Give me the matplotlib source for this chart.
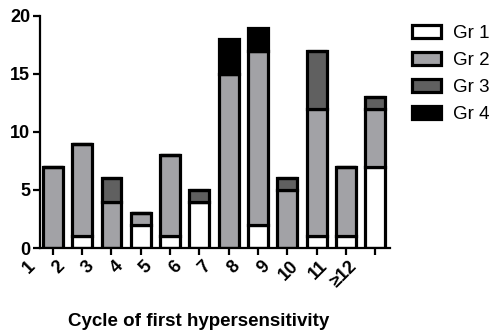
import matplotlib
matplotlib.use("Agg")
import matplotlib.pyplot as plt
import numpy as np

plt.rcParams['font.family'] = ['Liberation Sans', 'DejaVu Sans']

labels = ['1', '2', '3', '4', '5', '6', '7', '8', '9', '10', '11', '\u226512']
gr1 = [0, 1, 0, 2, 1, 4, 0, 2, 0, 1, 1, 7]
gr2 = [7, 8, 4, 1, 7, 0, 15, 15, 5, 11, 6, 5]
gr3 = [0, 0, 2, 0, 0, 1, 0, 0, 1, 5, 0, 1]
gr4 = [0, 0, 0, 0, 0, 0, 3, 2, 0, 0, 0, 0]
groups = ['Gr 1', 'Gr 2', 'Gr 3', 'Gr 4']
colors = ['white', '#a2a2a6', '#606060', 'black']

fig = plt.figure(figsize=(4.91, 3.32), dpi=100)
ax = fig.add_axes([0.0815, 0.253, 0.713, 0.699])

x = np.arange(len(gr1))
bottom = np.zeros(len(x))
for vals, name, c in zip([gr1, gr2, gr3, gr4], groups, colors):
    ax.bar(x, vals, 0.68, bottom=bottom, color=c, edgecolor='black',
           linewidth=2.3, label=name)
    bottom = bottom + np.array(vals)

ax.set_xlim(-0.44, 11.51)
ax.set_ylim(0, 20)
ax.set_yticks([0, 5, 10, 15, 20])
ax.set_xticks(x)
ax.set_xticklabels([])
for s in ['top', 'right']:
    ax.spines[s].set_visible(False)
for s in ['left', 'bottom']:
    ax.spines[s].set_linewidth(1.6)
ax.tick_params(axis='both', width=1.6, length=5, direction='out')
ax.tick_params(axis='y', pad=2)
for t in ax.get_yticklabels():
    t.set_fontsize(13)
    t.set_fontweight('bold')

# category labels, shifted one slot left as in the original
for i, lab in enumerate(labels):
    ax.text(i - 1 + 0.1, -0.04, lab, transform=ax.get_xaxis_transform(),
            rotation=45, ha='right', va='top', fontsize=13,
            fontweight='bold', rotation_mode='anchor')

fig.text(0.405, 0.018, 'Cycle of first hypersensitivity', ha='center',
         va='baseline', fontsize=13.5, fontweight='bold')

fig.legend(loc='upper left', bbox_to_anchor=(0.839, 0.925), frameon=False,
           fontsize=13.5, handlelength=1.55, handleheight=0.7,
           labelspacing=0.53, handletextpad=0.64, borderaxespad=0,
           borderpad=0)

fig.savefig('out.png', dpi=100)
